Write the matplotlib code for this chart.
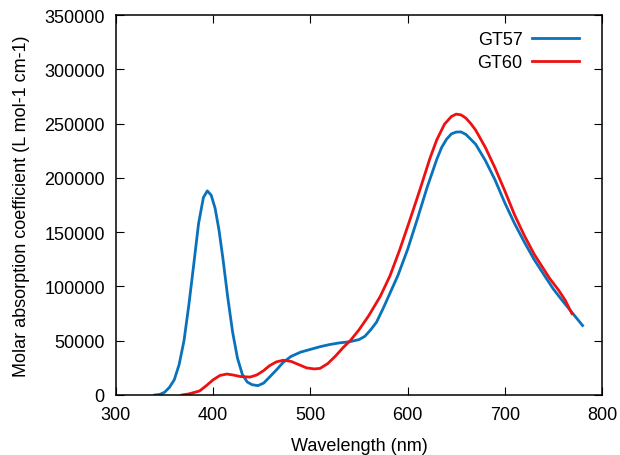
import matplotlib
matplotlib.use("Agg")
from matplotlib import pyplot as plt

plt.rcParams['font.family'] = ['Liberation Sans', 'DejaVu Sans']

# GT57 spectrum (nm, L mol-1 cm-1)
gt57_wl = [340, 345, 350, 355, 360, 365, 370, 375, 380, 385, 390, 394, 398,
           402, 406, 410, 415, 420, 425, 430, 435, 440, 446, 452, 458, 465,
           472, 480, 490, 500, 510, 520, 530, 540, 550, 556, 562, 568, 575,
           582, 590, 600, 610, 620, 630, 635, 640, 645, 650, 655, 660, 670,
           680, 690, 700, 710, 720, 730, 743, 750, 760, 770, 780]
gt57_eps = [0, 500, 2500, 7000, 14000, 28000, 50000, 83000, 120000, 158000,
            182000, 188000, 184000, 172000, 152000, 126000, 90000, 58000,
            34000, 19000, 12000, 9500, 8600, 11000, 16500, 23000, 30000,
            35500, 39500, 42000, 44500, 46500, 48000, 49000, 51000, 54000,
            60000, 67000, 80000, 94000, 110000, 134000, 162000, 191000,
            217000, 228000, 235500, 240500, 242200, 242300, 240000, 231000,
            216000, 198000, 177000, 158000, 141000, 125000, 107000, 97500,
            86000, 75000, 64000]

# GT60 spectrum
gt60_wl = [368, 375, 380, 386, 393, 400, 407, 414, 420, 428, 438, 445, 452,
           458, 465, 472, 480, 488, 496, 504, 510, 518, 526, 534, 541, 550,
           560, 572, 582, 592, 600, 606, 613, 623, 630, 638, 645, 650, 655,
           660, 665, 670, 680, 690, 700, 710, 720, 730, 746, 755, 762, 769]
gt60_eps = [0, 1000, 2200, 3700, 8600, 14000, 18000, 19300, 18500, 17000,
            16500, 18500, 22500, 27000, 30500, 32000, 31000, 28000, 25000,
            24000, 24500, 29000, 36000, 44000, 50000, 60000, 73000, 91000,
            110000, 134000, 155000, 171000, 190000, 218000, 235000, 249500,
            256500, 258700, 258000, 255000, 250000, 244000, 228000, 209000,
            188000, 166000, 147000, 130000, 107500, 97000, 87500, 75000]

fig = plt.figure(figsize=(6.2, 4.56), dpi=100)
ax = fig.add_axes([0.187, 0.1316, 0.784, 0.8333])

ax.plot(gt57_wl, gt57_eps, color='#0a72ba', lw=2, label='GT57')
ax.plot(gt60_wl, gt60_eps, color='#ee1111', lw=2, label='GT60')

ax.set_xlim(300, 800)
ax.set_ylim(0, 350000)
ax.set_xticks(range(300, 801, 100))
ax.set_yticks(range(0, 350001, 50000))
ax.tick_params(direction='in', top=True, right=True, length=6,
               labelsize=13, pad=8)
for s in ax.spines.values():
    s.set_linewidth(1.1)

ax.set_xlabel('Wavelength (nm)', fontsize=13, labelpad=10)
ax.set_ylabel('Molar absorption coefficient (L mol-1 cm-1)', fontsize=13,
              labelpad=10)

ax.legend(loc='upper right', bbox_to_anchor=(1.0, 1.02), frameon=False,
          markerfirst=False, fontsize=13, handlelength=2.6,
          handletextpad=0.5, labelspacing=0.35, borderaxespad=0.9)

fig.savefig('out.png', dpi=100)
